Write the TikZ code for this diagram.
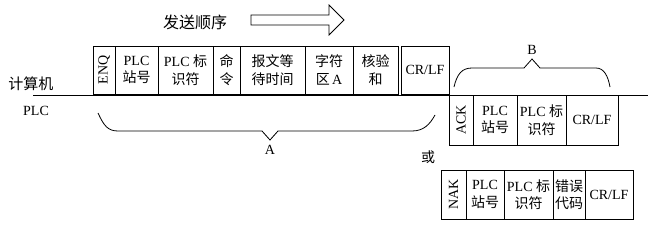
\documentclass[tikz,border=0pt]{standalone}
\usepackage{fontspec}
\setmainfont{Liberation Serif}
\newfontfamily\cjk{Noto Sans CJK SC}
\usetikzlibrary{positioning}

\tikzset{
    cell/.style={draw, inner sep=0pt, outer sep=0pt, align=center, anchor=north west,
        font=\fontsize{14}{17.5}\selectfont},
    vcell/.style={cell, rotate=90, anchor=north east},
    lbl/.style={inner sep=0pt, font=\fontsize{14}{16}\selectfont},
}

\begin{document}
\begin{tikzpicture}[x=1pt, y=-1pt, line width=0.8pt]
    \useasboundingbox (0,0) rectangle (650,225);
    % sending order
    \node[lbl, font=\fontsize{16}{18}\selectfont] (order) at (195,22) {\cjk 发送顺序};
    \draw (251,15) -- (329,15) -- (329,5) -- (344,20) -- (329,35) -- (329,25) -- (251,25) -- cycle;
    % line between the two stations
    \node[lbl, font=\fontsize{15}{17}\selectfont] (pc) at (31,84) {\cjk 计算机};
    \node[lbl] (plc) at (36,111) {PLC};
    \coordinate (lstart) at (33,95);
    \coordinate (lend) at (648,95);
    \draw (lstart) -- (lend);
    % frame from computer
    \node[vcell, minimum width=48, minimum height=22] (enq) at (93,46) {ENQ};
    \node[cell, minimum width=43, minimum height=48] (sno) at (115,46) {PLC\\{\cjk 站号}};
    \node[cell, minimum width=55, minimum height=48] (sid) at (158,46) {PLC {\cjk 标}\\{\cjk 识符}};
    \node[cell, minimum width=27, minimum height=48] (cmd) at (213,46) {{\cjk 命}\\{\cjk 令}};
    \node[cell, minimum width=65, minimum height=48] (wait) at (240,46) {{\cjk 报文等}\\{\cjk 待时间}};
    \node[cell, minimum width=48, minimum height=48] (chr) at (305,46) {{\cjk 字符}\\{\cjk 区}\,A};
    \node[cell, minimum width=45, minimum height=48] (sum) at (353,46) {{\cjk 核验}\\{\cjk 和}};
    \node[cell, minimum width=48, minimum height=48] (crlf) at (401,46) {CR/LF};
    % brace A
    \draw (98,113) .. controls (104,126) and (108,131) .. (118,131) -- (262,131) -- (270,140)
        -- (278,131) -- (412,131) .. controls (424,131) and (430,124) .. (435,115);
    \node[lbl] (a) at (270,150) {A};
    % answer ACK
    \node[vcell, minimum width=50, minimum height=24] (ack) at (449,95) {ACK};
    \node[cell, minimum width=44, minimum height=50] (asno) at (473,95) {PLC\\{\cjk 站号}};
    \node[cell, minimum width=49, minimum height=50] (asid) at (517,95) {PLC {\cjk 标}\\{\cjk 识符}};
    \node[cell, minimum width=52, minimum height=50] (acrlf) at (566,95) {CR/LF};
    % brace B
    \draw (454,87) .. controls (457,74) and (462,68) .. (472,68) -- (524,68) -- (532,59)
        -- (540,68) -- (596,68) .. controls (604,68) and (608,76) .. (610,87);
    \node[lbl] (b) at (532,50) {B};
    \node[lbl] (or) at (428,157) {\cjk 或};
    % answer NAK
    \node[vcell, minimum width=49, minimum height=25] (nak) at (441,170) {NAK};
    \node[cell, minimum width=38, minimum height=49] (nsno) at (466,170) {PLC\\{\cjk 站号}};
    \node[cell, minimum width=49, minimum height=49] (nsid) at (504,170) {PLC {\cjk 标}\\{\cjk 识符}};
    \node[cell, minimum width=32, minimum height=49] (err) at (553,170) {{\cjk 错误}\\{\cjk 代码}};
    \node[cell, minimum width=48, minimum height=49] (ncrlf) at (585,170) {CR/LF};
\end{tikzpicture}
\end{document}
